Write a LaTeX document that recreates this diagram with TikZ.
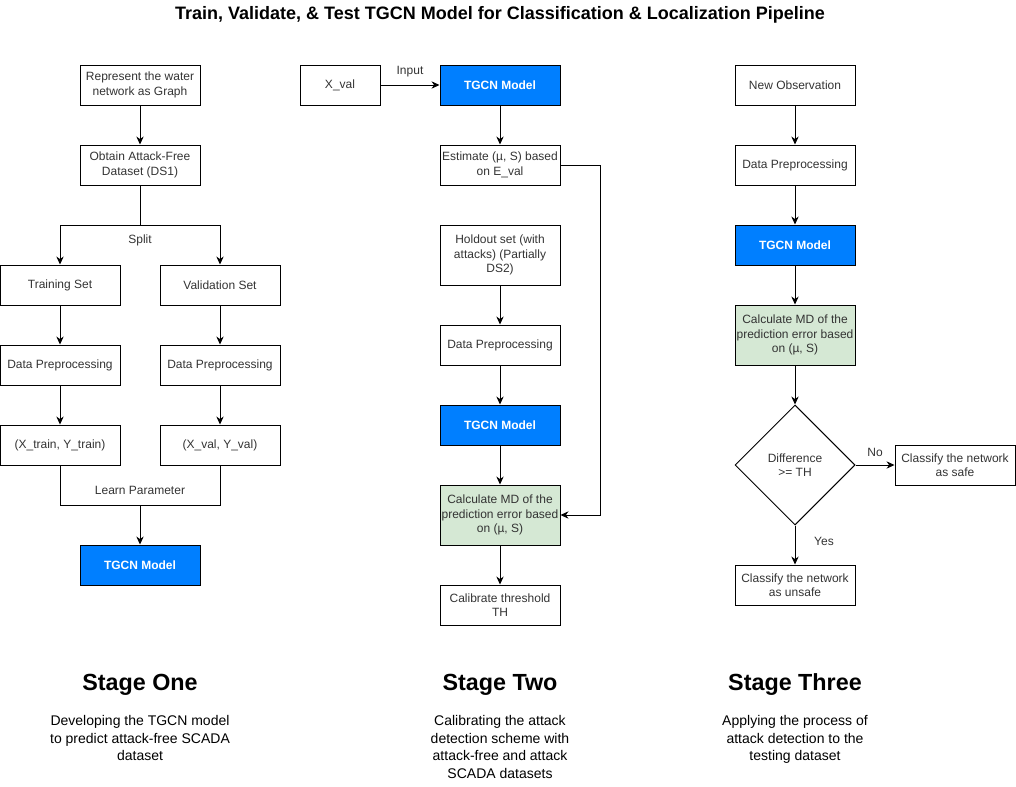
\documentclass[tikz,border=0pt]{standalone}
\usepackage{fontspec}
\setmainfont{Liberation Sans}
\usetikzlibrary{arrows.meta,shapes.geometric}

\definecolor{tgcnblue}{RGB}{0,127,255}
\definecolor{mdgreen}{RGB}{213,232,212}
\definecolor{txtgray}{RGB}{51,51,51}

\begin{document}
\begin{tikzpicture}[x=0.75pt,y=-0.75pt,
    box/.style={draw,line width=0.75pt,minimum width=90pt,minimum height=30pt,inner sep=1pt,
        align=center,text=txtgray,font=\fontsize{9}{10.8}\selectfont},
    tallbox/.style={box,minimum height=45pt},
    smallbox/.style={box,minimum width=60pt},
    model/.style={box,fill=tgcnblue,text=white,font=\fontsize{9}{10.8}\selectfont\bfseries},
    mdbox/.style={tallbox,fill=mdgreen},
    decide/.style={diamond,draw,line width=0.75pt,minimum width=90pt,minimum height=90pt,inner sep=0pt,
        align=center,text=txtgray,font=\fontsize{9}{10.8}\selectfont},
    arr/.style={line width=0.75pt,-{Stealth[length=6pt,width=5.5pt]}},
    conn/.style={line width=0.75pt},
    lbl/.style={text=txtgray,font=\fontsize{9}{10.8}\selectfont,inner sep=1pt},
    stage/.style={font=\fontsize{17.5}{20}\selectfont\bfseries},
    descr/.style={align=center,anchor=north,inner sep=0pt,font=\fontsize{10.5}{13.3}\selectfont}]

    \useasboundingbox (0,0) rectangle (1016,786);

    % title
    \node[font=\fontsize{13.5}{16}\selectfont\bfseries] (title) at (500,15)
        {Train, Validate, \& Test TGCN Model for Classification \& Localization Pipeline};

    % stage one
    \node[box] (repr) at (140,85) {Represent the water\\network as Graph};
    \node[box] (obtain) at (140,165) {Obtain Attack-Free\\Dataset (DS1)};
    \node[box] (train) at (60,285) {Training Set};
    \node[box] (valid) at (220,285) {Validation Set};
    \node[box] (prepA) at (60,365) {Data Preprocessing};
    \node[box] (prepB) at (220,365) {Data Preprocessing};
    \node[box] (xytrain) at (60,445) {(X\_train, Y\_train)};
    \node[box] (xyval) at (220,445) {(X\_val, Y\_val)};
    \node[model] (tgcnA) at (140,565) {TGCN Model};
    \coordinate (learn) at (140,505);

    \draw[arr] (repr) -- (obtain);
    \draw[arr] (obtain.south) -- ++(0,40) -| (train);
    \draw[arr] (obtain.south) -- ++(0,40) -| (valid);
    \node[lbl] (split) at (140,240) {Split};
    \draw[arr] (train) -- (prepA);
    \draw[arr] (valid) -- (prepB);
    \draw[arr] (prepA) -- (xytrain);
    \draw[arr] (prepB) -- (xyval);
    \draw[conn] (xytrain.south) |- (learn) -| (xyval.south);
    \node[lbl] (learnlbl) at (140,490) {Learn Parameter};
    \draw[arr] (learn) -- (tgcnA);

    % stage two
    \node[smallbox] (xval) at (340,85) {X\_val};
    \node[model] (tgcnB) at (500,85) {TGCN Model};
    \node[box] (estim) at (500,165) {Estimate (µ, S) based\\on E\_val};
    \node[tallbox] (hold) at (500,255) {Holdout set (with\\attacks) (Partially\\DS2)};
    \node[box] (prepC) at (500,345) {Data Preprocessing};
    \node[model] (tgcnC) at (500,425) {TGCN Model};
    \node[mdbox] (mdB) at (500,515) {Calculate MD of the\\prediction error based\\on (µ, S)};
    \node[box] (calib) at (500,605) {Calibrate threshold\\TH};

    \draw[arr] (xval) -- node[lbl,above=5pt] {Input} (tgcnB);
    \draw[arr] (tgcnB) -- (estim);
    \draw[arr] (estim.east) -- ++(40,0) |- (mdB.east);
    \draw[arr] (hold) -- (prepC);
    \draw[arr] (prepC) -- (tgcnC);
    \draw[arr] (tgcnC) -- (mdB);
    \draw[arr] (mdB) -- (calib);

    % stage three
    \node[box] (newobs) at (795,85) {New Observation};
    \node[box] (prepD) at (795,165) {Data Preprocessing};
    \node[model] (tgcnD) at (795,245) {TGCN Model};
    \node[mdbox] (mdC) at (795,335) {Calculate MD of the\\prediction error based\\on (µ, S)};
    \node[decide] (diff) at (795,465) {Difference\\>= TH};
    \node[box] (safe) at (955,465) {Classify the network\\as safe};
    \node[box] (unsafe) at (795,585) {Classify the network\\as unsafe};

    \draw[arr] (newobs) -- (prepD);
    \draw[arr] (prepD) -- (tgcnD);
    \draw[arr] (tgcnD) -- (mdC);
    \draw[arr] (mdC) -- (diff);
    \draw[arr] (diff) -- node[lbl,above=5pt] {No} (safe);
    \draw[arr] (diff) -- node[lbl,right=13pt,pos=0.4] {Yes} (unsafe);

    % stage captions
    \node[stage] (stageA) at (140,685) {Stage One};
    \node[stage] (stageB) at (500,685) {Stage Two};
    \node[stage] (stageC) at (795,685) {Stage Three};
    \node[descr] (descA) at (140,715) {Developing the TGCN model\\to predict attack-free SCADA\\dataset};
    \node[descr] (descB) at (500,715) {Calibrating the attack\\detection scheme with\\attack-free and attack\\SCADA datasets};
    \node[descr] (descC) at (795,715) {Applying the process of\\attack detection to the\\testing dataset};
\end{tikzpicture}
\end{document}
